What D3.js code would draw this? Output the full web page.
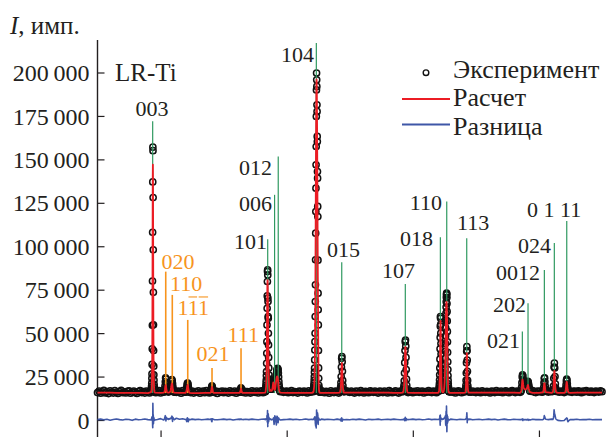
<!DOCTYPE html>
<html><head><meta charset="utf-8">
<script src="https://cdn.jsdelivr.net/npm/d3@7"></script>
<style>
html,body{margin:0;padding:0;background:#fff;}
svg{display:block;}
text{font-family:"Liberation Serif","Times New Roman",serif;fill:#231f20;}
</style></head>
<body>
<svg id="chart" width="614" height="437"></svg>
<script>
// ---------- DATA ----------
const yTicks = [0, 25000, 50000, 75000, 100000, 125000, 150000, 175000, 200000];
const yTickLabels = ["0", "25\u2009000", "50\u2009000", "75\u2009000", "100\u2009000", "125\u2009000", "150\u2009000", "175\u2009000", "200\u2009000"];
const xTicks = [20, 40, 60, 80];

// background experimental counts, 2θ = 10 … 90 every 0.25°
const bgExpStart = 10, bgExpStep = 0.25;
const bgExp = [
15800,16600,15400,16200,17000,15600,16300,15200,16800,16100,15500,16900,16000,15300,16400,17100,15700,16200,15600,16500,
16800,15400,16100,16700,15900,15300,16400,16900,15800,16300,15500,16600,16100,15600,16800,16200,16000,15700,16400,16900,
15600,16300,15900,16700,16200,15500,16800,16100,15700,16400,15900,16600,16300,15400,16900,16000,15600,16500,16200,15800,
16700,15500,16300,16000,16800,15400,16200,16600,15700,16900,16100,15600,16500,16300,15800,16700,15300,16400,16000,16600,
15700,16500,16100,15500,16800,16200,15900,16600,15400,16300,16900,15800,16200,16700,15600,16400,16000,15500,16800,16200,
15900,16600,15600,16400,16800,15700,16300,16900,16100,15600,16500,16200,15800,16700,16000,15500,16400,16800,15900,16300,
16600,15700,16200,16900,15800,16400,16100,15500,16700,16300,15900,16600,16200,15600,16800,16000,16500,15800,16300,16700,
15600,16400,16900,16100,15700,16500,16200,15400,16800,16000,15800,16600,16300,15500,16900,16100,15700,16400,16800,16200,
15900,16700,16000,15500,16600,16300,15800,16900,16200,15600,16500,16100,15700,16800,16400,15900,16600,16000,15500,16700,
16300,15800,16600,16100,15600,16900,16400,15700,16200,16800,16000,15500,16700,16300,15900,16600,16200,15800,16900,16400,
15700,16500,16100,16800,15900,16300,16700,15600,16400,16000,16900,16200,15800,16600,16300,15700,16800,16100,16500,15900,
16600,16200,15800,16900,16400,16000,16700,15600,16300,16800,16100,15700,16500,16200,15900,16700,16300,16000,16600,16100,
15800,16600,16300,15700,16800,16200,15900,16500,16100,15600,16700,16400,15800,16900,16200,16000,16600,15700,16300,16800,
16100,15700,16500,16900,16200,15800,16600,16300,15900,16800,16400,16000,16700,16200,15700,16500,16900,16100,15800,16600,
16300,16700,16000,15800,16900,16400,16100,16600,16300,15900,16800,16200,16500,16000,16700,16400,15800,16600,16200,16900,
16300,15900,16700,16500,16000,16800,16300,15700,16600,16200,16900,16400,16000,16700,16300,15800,16600,16400,16100,16800,
16300];

// background calculated counts, every 1°
const bgCalcStart = 10, bgCalcStep = 1;
const bgCalc = [
15800,15700,15700,15600,15600,15600,15600,15600,15500,15600,
15600,15700,15600,15600,15600,15500,15500,15600,15600,15600,
15600,15600,15600,15600,15600,15600,15600,15700,15700,15600,
15600,15600,15600,15600,15600,15600,15600,15600,15600,15600,
15700,15700,15700,15700,15700,15700,15700,15600,15600,15600,
15600,15600,15600,15600,15600,15600,15600,15600,15600,15700,
15700,15700,15700,15700,15700,15700,15700,15600,15600,15600,
15600,15600,15600,15600,15600,15600,15700,15700,15700,15700,
15700];

// background difference, every 0.5°
const bgDiffStart = 10, bgDiffStep = 0.5;
const bgDiff = [
200,500,100,400,-100,300,600,200,0,400,300,-200,500,100,300,600,200,400,100,300,
800,600,900,500,700,1000,400,700,600,300,500,200,400,100,300,500,200,400,100,300,
500,200,400,0,300,500,100,400,200,500,300,100,400,600,200,300,500,100,400,200,
300,500,200,400,100,300,600,200,400,0,300,500,200,400,300,100,500,200,400,300,
100,400,200,500,300,0,400,200,300,500,100,300,400,200,500,300,100,400,200,300,
500,200,400,100,300,600,200,400,300,100,400,200,500,300,100,400,300,200,500,100,
300,400,100,300,500,200,400,0,300,500,200,100,400,300,200,500,100,300,400,200,
300,100,400,200,500,300,-200,-400,-300,100,300,200,400,100,300,200,400,100,300,200,
200];

// peak regions: [start 2θ, step]
const peakWindows = [
  [18.50, 0.02], [20.50, 0.05], [23.95, 0.05], [27.90, 0.05], [32.55, 0.05],
  [36.60, 0.02], [37.44, 0.04], [44.20, 0.02], [48.40, 0.04], [58.40, 0.04],
  [64.10, 0.02], [64.70, 0.02], [68.30, 0.03], [77.10, 0.05], [80.65, 0.05],
  [82.20, 0.05], [84.15, 0.05]
];
const peakExp = [
  [16500,17000,17600,18400,19500,21200,24000,26500,32000,41000,54500,80000,108000,137000,157000,155000,128000,98000,73500,54800,40000,31000,26000,23000,20500,19000,18000,17300,16800,16400,16000],
  [16000,16300,16800,17800,19500,22000,24200,23500,21000,19000,17800,17000,16600,16400,16200,16500,16200,16600,16400,16800,17000,17300,17800,18800,20500,22300,23200,22500,21000,19200,17800,17000,16500,16200,16000],
  [16000,16300,16800,17500,18600,20000,21100,21300,20500,19200,18000,17200,16600,16200,16000],
  [16000,16400,17000,17900,18900,19600,19100,18100,17200,16600,16200,16000,15900],
  [16000,16400,16900,17700,18500,18100,17300,16600,16200,16000,15900],
  [16200,16600,17000,17500,18200,19000,20000,21500,23000,25500,27800,32600,38400,45100,54700,64300,71400,79700,85400,86400,83500,70100,68200,59500,58600,49900,43200,36000,30000,26000,23500,21500,20000,19000,18400,18000,17800,17800,18000,18300,18600],
  [18800,18500,18100,17800,17700,17800,18100,18700,19500,20500,21600,22600,23000,22300,21000,19800,19200,19400,20200,21200,22300,23500,24800,26000,27200,28200,29000,29500,29700,29400,28600,27000,24800,22300,20200,18700,17600,17000,16600,16300],
  [16300,16600,17000,17500,18200,19000,20000,21100,23000,25000,27500,29800,34600,40300,45100,49900,59500,68200,77800,92200,107500,120000,133400,146900,157400,174700,190000,199700,195800,192000,181400,177600,163200,160300,143000,139200,122900,117100,92000,73000,63400,54700,40000,30000,24000,20000,18500,17600,17000,16700,16500,16400,16300,16200,16100,16000],
  [16200,16500,17000,17800,19200,21500,25000,30500,35500,36500,33500,28000,22800,19800,18000,17000,16500,16200],
  [16300,16600,17000,17600,18500,20000,22500,27000,33000,40000,45000,46000,42500,36000,29000,23500,20000,18000,17000,16500,16200],
  [16500,16800,17200,17700,18500,19500,21000,23000,26000,30000,35000,41000,47500,54000,59500,58500,55000,50000,44000,38000,32000,27500,24000,21500,20000,19000,18400,18000,17800],
  [17600,17500,17500,17400,17400,17500,17600,17700,17900,18100,18400,18700,19100,19600,20200,21000,22000,23200,24800,26800,29200,32000,35500,39500,44000,48500,53000,57500,61500,65000,68000,70500,72000,73000,72500,70500,67000,62500,57000,51000,45000,39000,33500,29000,25500,22800,20800,19400,18400,17700,17200,16900,16600,16400,16300,16200],
  [16400,16800,17400,18400,20000,22800,27000,33000,39500,42200,40000,34500,28000,22800,19800,18200,17300,16800,16500,16300,16200],
  [16300,16700,17400,18800,21500,24800,26000,25200,23500,22000,21000,20500,20200,20000,19800,19700,19600,19600,19700,19900,20300,21000,21800,22200,21800,20800,19600,18500,17600,17000,16600],
  [16400,17200,18800,21500,24000,24200,22000,19500,17800,16800],
  [16500,17500,19500,24000,30500,32800,30000,25000,20800,18300,17000,16400],
  [16400,17000,18200,20200,22500,23600,22800,20800,18800,17500,16800,16300]
];
const peakCalc = [
  [16000,16200,16500,17000,17800,19000,21000,24000,29000,38000,52000,78000,112000,140000,147000,138000,110000,80000,56000,40000,30000,24500,21500,19500,18200,17300,16700,16300,16000,15900,15800],
  [15800,15900,16100,16600,17600,19000,20000,19600,18300,17100,16400,16000,15900,15800,15800,15800,15800,15800,15900,16000,16200,16500,17000,17800,19000,20500,21000,20300,18800,17400,16600,16100,15900,15800,15800],
  [15600,15800,16100,16600,17400,18600,19800,20200,19500,18300,17200,16500,16000,15700,15600],
  [15600,15900,16400,17300,18400,19100,18600,17500,16600,16000,15700,15600,15600],
  [15600,15900,16500,17300,18000,17600,16800,16100,15800,15600,15600],
  [15800,16000,16300,16700,17200,17800,18600,19600,21000,23000,26000,30000,36000,44000,54000,64000,72000,78000,80500,80000,76000,68000,60000,52000,45000,38000,32000,27500,24000,21500,20000,18800,18000,17400,17000,16800,16700,16700,16800,17000,17200],
  [17300,17100,16900,16800,16800,16900,17200,17700,18500,19600,20800,21600,21400,20200,18700,17700,17300,17400,17900,18700,19800,21000,22200,23300,24200,24800,25100,25000,24500,23600,22300,20800,19400,18200,17300,16700,16300,16000,15800,15700],
  [15900,16000,16200,16500,16900,17400,18000,18800,19800,21200,23000,25500,29000,34000,40000,48000,58000,70000,84000,100000,117000,134000,150000,165000,178000,188000,194000,196000,194000,188000,179000,168000,155000,141000,126000,111000,96000,82000,69000,57000,47000,38000,31000,25500,21500,19000,17500,16700,16200,16000,15900,15800,15700,15700,15600,15600],
  [15700,15900,16200,16800,17900,19800,23000,27500,31500,32800,30500,25500,21000,18500,17000,16300,15900,15700],
  [15700,15900,16300,16900,17800,19200,21500,25500,31000,37500,41800,42000,39000,33000,26500,21500,18700,17200,16400,16000,15800],
  [16000,16200,16500,16900,17500,18400,19700,21500,24000,27500,32000,37500,43500,50000,55500,57000,54500,49500,43500,37000,31000,26000,22500,20000,18400,17400,16800,16400,16200],
  [16100,16000,16000,15900,15900,16000,16000,16100,16200,16400,16600,16900,17300,17800,18400,19200,20200,21500,23000,25000,27500,30500,34000,38000,42500,47000,51500,56000,60000,63500,66000,67500,68000,67500,66000,63000,59000,54000,48500,42500,36500,31000,26500,23000,20500,18800,17700,17000,16500,16200,16000,15900,15800,15700,15700,15600],
  [15800,16100,16600,17400,18800,21200,25000,30500,36000,38500,36500,31500,25500,21000,18500,17200,16500,16100,15900,15800,15700],
  [15900,16200,16700,17700,19800,22300,23200,22300,20500,19200,18400,18000,17800,17700,17600,17600,17600,17600,17700,17900,18300,19000,19800,20200,19800,18900,17900,17100,16600,16200,16000],
  [15900,16500,17600,19600,21200,21000,19200,17600,16600,16000],
  [16000,16700,18200,21500,26500,28200,26000,21800,18700,17100,16300,15900],
  [15900,16400,17300,18900,21000,22000,21300,19400,17700,16700,16100,15800]
];
const peakDiff = [
  [0,0,200,600,800,1200,1500,800,1500,2000,1500,1000,-3000,-4500,9600,5000,-2500,3000,-1000,-2000,1500,1500,1000,800,500,300,200,0,-200,0,0],
  [0,200,500,1200,1800,2500,1500,-500,1500,800,1200,600,800,500,400,700,400,800,500,800,800,800,800,1000,1500,1800,2200,800,-800,1500,1200,900,600,400,200],
  [300,200,400,-300,-900,600,1300,900,-600,-1000,300,500,300,200,100],
  [300,500,600,700,-800,-1000,700,600,500,400,400,300,200],
  [200,300,400,300,600,500,300,300,300,300,200],
  [200,300,300,400,500,600,500,700,500,800,600,900,1000,1500,2500,1800,-1200,1700,5400,3000,-3800,2100,-2000,1500,3600,2000,1200,-1000,600,1500,1000,600,500,600,800,600,400,300,300,500,600],
  [600,400,300,200,100,200,300,200,400,300,700,900,1200,-800,-2500,-1800,1500,2400,1200,-600,900,1600,-1200,-2800,-1400,1000,2200,1800,600,-900,-1500,500,1200,900,600,400,300,200,100,0],
  [200,300,400,500,600,700,800,900,1000,1200,1400,1000,1500,1800,1000,-600,1500,-1800,-2200,-3000,-3500,-1500,-1400,-2000,-4600,1500,-2000,5700,1800,4000,2400,4500,2000,2000,3000,4000,2000,3000,-1500,-2000,-2500,1000,800,1200,1000,800,600,500,400,300,300,200,100,0,0,0],
  [200,300,300,400,300,-500,600,1000,1200,800,-700,300,400,300,200,300,200,100],
  [300,200,300,400,200,500,600,300,-400,800,1500,1200,600,-300,500,700,400,300,300,200,200],
  [300,400,300,500,600,500,800,700,1200,1800,2500,-1500,-3000,2800,1500,-1000,800,600,900,1100,800,900,700,800,600,700,500,600,500],
  [400,500,400,600,500,600,500,700,600,800,700,900,800,1000,1200,1000,1300,1100,1500,1200,1800,1500,2000,1500,2500,-1500,-3000,1500,3000,5000,2000,-3500,8000,4000,-2000,-6700,-4000,3000,2500,-2000,1500,2000,1000,-1200,800,600,500,400,300,300,200,200,100,100,0,0],
  [300,400,500,600,700,800,900,1500,2500,4200,2000,-1500,1000,800,600,500,400,300,300,200,200],
  [200,300,200,400,300,600,500,-300,400,300,200,300,200,100,200,300,200,100,200,100,300,200,400,300,-200,300,200,100,200,100,0],
  [300,400,800,1500,2500,2000,1500,800,600,400],
  [300,600,1200,2500,5800,4500,3500,2800,1800,1000,600,400],
  [300,400,600,800,1000,1200,1000,800,-600,-1000,-800,-500]
];

// reflection markers
const greenHkl = ["003","101","006","012","104","015","107","018","110","113","021","202","0012","024","0 1 11"];
const greenPos = [18.75, 36.99, 38.08, 38.66, 44.70, 48.73, 58.81, 64.37, 65.38, 68.55, 77.37, 78.27, 80.86, 82.44, 84.41];
const greenTop = [172000, 104000, 129600, 151700, 217000, 90800, 78300, 105200, 125700, 104600, 50900, 67200, 86400, 101800, 114600];
const orangeHkl = ["020","110","11\u03041\u0304","021","111"];
const orangePos = [20.82, 21.86, 24.31, 28.16, 32.76];
const orangeTop = [85400, 72000, 57600, 30000, 41300];
const markerBottom = 15500;

const legendLabels = ["Эксперимент", "Расчет", "Разница"];
const sampleLabel = "LR-Ti";
const axisTitleItalic = "I", axisTitleRest = ", имп.";

// ---------- LAYOUT (px) ----------
const greenLabelLayout = [
  [152,116,"middle"],[267,249,"end"],[272,211,"end"],[272,175,"end"],[314,62,"end"],
  [327,257,"start"],[382,278,"start"],[433,246,"end"],[442,210,"end"],[457,230,"start"],
  [520,348,"end"],[526,312,"end"],[540,280,"end"],[551,253,"end"],[527,217,"start"]
];
const orangeLabelLayout = [[161.5,269,"start"],[170,291,"start"],[177.5,315,"start"],[196.5,360.5,"start"],[227.5,342,"start"]];

const RED = "#ec1c24", BLUE = "#3f57a7", GREEN = "#2f9960", ORANGE = "#f7941d", INK = "#231f20";
const FAM = '"Liberation Serif", "Times New Roman", serif';
const fsTick = 24, fsHkl = 22, fsLeg = 26, fsSample = 25, fsTitle = 25;

// ---------- BUILD ----------
const svg = d3.select("#chart");
svg.append("rect").attr("width",614).attr("height",437).attr("fill","#fff");

const x = d3.scaleLinear().domain([10, 90]).range([97.5, 602]);
const y = d3.scaleLinear().domain([0, 200000]).range([420, 72.5]);

const win = peakWindows.map((w, i) => [w[0] - 0.005, w[0] + w[1] * (peakExp[i].length - 1) + 0.005]);
const inWin = t => win.some(w => t >= w[0] && t <= w[1]);

function series(bgStart, bgStep, bgVals, peakVals) {
  const pts = [];
  bgVals.forEach((v, i) => { const t = bgStart + i * bgStep; if (!inWin(t)) pts.push([t, v]); });
  peakWindows.forEach((w, k) => peakVals[k].forEach((v, i) => pts.push([w[0] + i * w[1], v])));
  pts.sort((a, b) => a[0] - b[0]);
  return pts;
}
const expPts = series(bgExpStart, bgExpStep, bgExp, peakExp);
const calcPts = series(bgCalcStart, bgCalcStep, bgCalc, peakCalc);
const diffPts = series(bgDiffStart, bgDiffStep, bgDiff, peakDiff);

// axes
const yAxis = d3.axisLeft(y).tickValues(yTicks).tickFormat((d, i) => yTickLabels[i])
  .tickSizeInner(-7).tickSizeOuter(0).tickPadding(8);
const gy = svg.append("g").attr("transform", "translate(97.5,0)").call(yAxis);
gy.select(".domain").remove();
gy.attr("font-family", FAM);
gy.selectAll(".tick line").attr("stroke", INK).attr("stroke-width", 1.2);
gy.selectAll(".tick text").attr("font-size", fsTick).attr("fill", INK).attr("dy", "0.34em");
svg.append("line").attr("x1", 97.5).attr("x2", 97.5).attr("y1", 40).attr("y2", 437)
  .attr("stroke", INK).attr("stroke-width", 1.4);

const xAxis = d3.axisBottom(x).tickValues(xTicks).tickFormat("").tickSizeInner(-7).tickSizeOuter(0);
const gx = svg.append("g").attr("transform", "translate(0,437.5)").call(xAxis);
gx.select(".domain").remove();
gx.selectAll(".tick line").attr("stroke", INK).attr("stroke-width", 1.2);

// experimental circles
svg.append("g").selectAll("circle").data(expPts).join("circle")
  .attr("cx", d => x(d[0])).attr("cy", d => y(d[1])).attr("r", 3.1)
  .attr("fill", "none").attr("stroke", "#111").attr("stroke-width", 1.5);

// reflection markers
const mk = svg.append("g");
greenPos.forEach((p, i) => {
  mk.append("line").attr("x1", x(p)).attr("x2", x(p)).attr("y1", y(markerBottom)).attr("y2", y(greenTop[i]))
    .attr("stroke", GREEN).attr("stroke-width", 1.2);
});
orangePos.forEach((p, i) => {
  mk.append("line").attr("x1", x(p)).attr("x2", x(p)).attr("y1", y(markerBottom)).attr("y2", y(orangeTop[i]))
    .attr("stroke", ORANGE).attr("stroke-width", 1.6);
});

// calculated and difference lines
const line = d3.line().x(d => x(d[0])).y(d => y(d[1]));
svg.append("path").datum(calcPts).attr("d", line).attr("fill", "none")
  .attr("stroke", RED).attr("stroke-width", 1.8).attr("stroke-linejoin", "round");
svg.append("path").datum(diffPts).attr("d", line).attr("fill", "none")
  .attr("stroke", BLUE).attr("stroke-width", 1.6).attr("stroke-linejoin", "round");

// hkl labels (combining macron = bar over the preceding digit)
function addLabel(g, str, pos, color) {
  const chars = Array.from(str), plain = [], bars = [];
  chars.forEach(c => { if (c === "\u0304") bars.push(plain.length - 1); else plain.push(c); });
  const t = g.append("text").attr("x", pos[0]).attr("y", pos[1]).attr("text-anchor", pos[2])
    .attr("font-family", FAM).attr("font-size", fsHkl).style("fill", color);
  plain.forEach(c => t.append("tspan").text(c));
  const node = t.node();
  bars.forEach(i => {
    const a = node.getStartPositionOfChar(i).x, b = node.getEndPositionOfChar(i).x;
    g.append("line").attr("x1", a + 0.8).attr("x2", b - 0.8)
      .attr("y1", pos[1] - fsHkl * 0.82).attr("y2", pos[1] - fsHkl * 0.82)
      .attr("stroke", color).attr("stroke-width", 1.1);
  });
}
const lg = svg.append("g");
greenHkl.forEach((h, i) => addLabel(lg, h, greenLabelLayout[i], INK));
orangeHkl.forEach((h, i) => addLabel(lg, h, orangeLabelLayout[i], ORANGE));

// axis title
const ttl = svg.append("text").attr("x", 10).attr("y", 34).attr("font-size", fsTitle).attr("font-family", FAM);
ttl.append("tspan").attr("font-style", "italic").text(axisTitleItalic);
ttl.append("tspan").text(axisTitleRest);
svg.append("text").attr("x", 115).attr("y", 81).attr("font-size", fsSample).attr("font-family", FAM).text(sampleLabel);

// legend
svg.append("circle").attr("cx", 426).attr("cy", 72.7).attr("r", 2.8)
  .attr("fill", "none").attr("stroke", "#111").attr("stroke-width", 1.4);
svg.append("line").attr("x1", 402).attr("x2", 450).attr("y1", 99).attr("y2", 99).attr("stroke", RED).attr("stroke-width", 2);
svg.append("line").attr("x1", 402).attr("x2", 450).attr("y1", 124.5).attr("y2", 124.5).attr("stroke", BLUE).attr("stroke-width", 2);
legendLabels.forEach((s, i) => svg.append("text").attr("x", 453).attr("y", [77.5, 106, 134.5][i])
  .attr("font-size", fsLeg).attr("font-family", FAM).text(s));
</script>
</body></html>
